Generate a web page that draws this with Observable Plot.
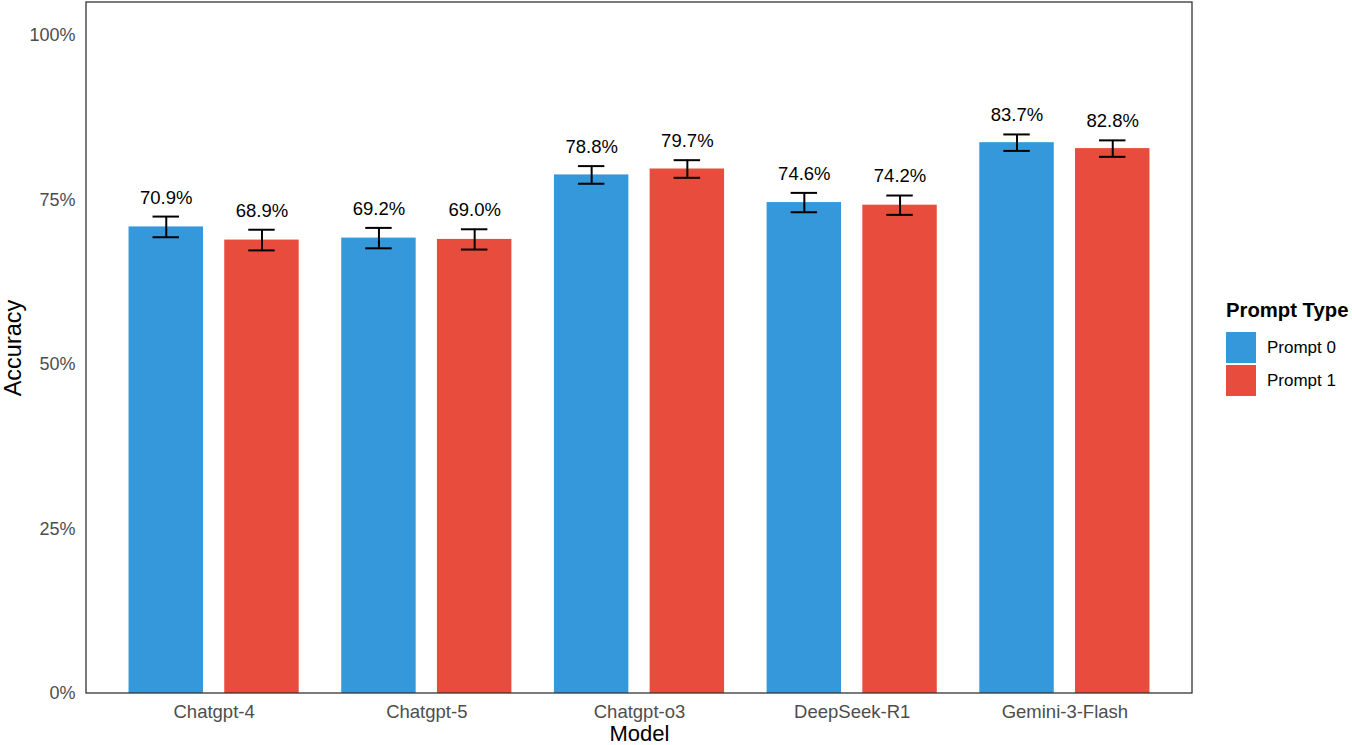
<!DOCTYPE html>
<html><head><meta charset="utf-8">
<script src="https://cdn.jsdelivr.net/npm/d3@7"></script>
<script src="https://cdn.jsdelivr.net/npm/@observablehq/plot@0.6"></script>
<style>
body{margin:0;background:#fff;font-family:"Liberation Sans",Arial,sans-serif}
#wrap{position:relative;width:1352px;height:745px;overflow:hidden}
#legend{position:absolute;left:1226px;top:298px;color:#000}
#legend .title{font-weight:bold;font-size:20.3px;line-height:24px;margin-bottom:9px;white-space:nowrap}
#legend .row{display:flex;align-items:center;height:33px}
#legend .sw{width:30px;height:31px;margin-right:11px}
#legend .lab{font-size:17px}
</style></head><body><div id="wrap"></div>
<script>
const models = ["Chatgpt-4", "Chatgpt-5", "Chatgpt-o3", "DeepSeek-R1", "Gemini-3-Flash"];
const prompts = ["Prompt 0", "Prompt 1"];
const colors = ["#3498DB", "#E74C3C"];
const accPrompt0 = [70.9, 69.2, 78.8, 74.6, 83.7];
const accPrompt1 = [68.9, 69.0, 79.7, 74.2, 82.8];
const errPrompt0 = [1.57, 1.55, 1.34, 1.47, 1.25];
const errPrompt1 = [1.57, 1.54, 1.34, 1.47, 1.25];
const yTicks = [0, 0.25, 0.5, 0.75, 1];

const data = models.flatMap((m, i) => [
  {model: m, prompt: prompts[0], acc: accPrompt0[i] / 100, err: errPrompt0[i] / 100},
  {model: m, prompt: prompts[1], acc: accPrompt1[i] / 100, err: errPrompt1[i] / 100}
]);
const lower = d => d.acc - d.err;
const upper = d => d.acc + d.err;

const W = 1352, H = 745, ML = 86, MR = 160, MT = 2, MB = 52;
const OUTER = 0.1;
const step = (W - ML - MR) / (models.length + 2 * OUTER);
const facetShift = OUTER * step; // first facet starts this far right of the panel edge

const chart = Plot.plot({
  width: W, height: H,
  marginLeft: ML, marginRight: MR, marginTop: MT, marginBottom: MB,
  style: {fontFamily: "Liberation Sans, Arial, sans-serif", background: "white", overflow: "visible"},
  fx: {domain: models, paddingInner: 0, paddingOuter: OUTER, round: false, label: "Model"},
  x: {domain: prompts, padding: 0.2222, round: false, axis: null},
  y: {domain: [0, 1.05]},
  color: {domain: prompts, range: colors},
  marks: [
    Plot.barY(data, {fx: "model", x: "prompt", y: "acc", fill: "prompt"}),
    Plot.ruleX(data, {fx: "model", x: "prompt", y1: lower, y2: upper, stroke: "black", strokeWidth: 2}),
    Plot.tickY(data, {fx: "model", x: "prompt", y: lower, stroke: "black", strokeWidth: 2, insetLeft: 24, insetRight: 24}),
    Plot.tickY(data, {fx: "model", x: "prompt", y: upper, stroke: "black", strokeWidth: 2, insetLeft: 24, insetRight: 24}),
    Plot.text(data, {fx: "model", x: "prompt", y: upper, text: d => d3.format(".1%")(d.acc), dy: -19, fontSize: 18.5, fill: "black"}),
    Plot.axisY({ticks: yTicks, tickFormat: d3.format(".0%"), tickSize: 0, tickPadding: 11 + facetShift, fontSize: 18, color: "#4d4d4d",
      label: "Accuracy", labelAnchor: "center", labelArrow: false, labelOffset: 82 + facetShift}),
    Plot.axisFx({anchor: "bottom", tickSize: 0, tickPadding: 11, fontSize: 18.5, color: "#4d4d4d",
      label: "Model", labelAnchor: "center", labelArrow: false, labelOffset: 47})
  ]
});

const svg = d3.select(chart);
svg.selectAll('[aria-label="fx-axis label"]')
  .attr("fill", "black").style("font-size", "22px");
svg.selectAll('[aria-label="y-axis label"]')
  .attr("fill", "black").style("font-size", "23.5px");
svg.append("rect")
  .attr("x", ML).attr("y", MT)
  .attr("width", W - ML - MR).attr("height", H - MT - MB)
  .attr("fill", "none").attr("stroke", "#333").attr("stroke-width", 1.3);

const wrap = document.getElementById("wrap");
wrap.appendChild(chart);
const legend = document.createElement("div");
legend.id = "legend";
legend.innerHTML = '<div class="title">Prompt Type</div>' +
  prompts.map((p, i) => `<div class="row"><div class="sw" style="background:${colors[i]}"></div><div class="lab">${p}</div></div>`).join("");
wrap.appendChild(legend);
</script>
</body></html>
